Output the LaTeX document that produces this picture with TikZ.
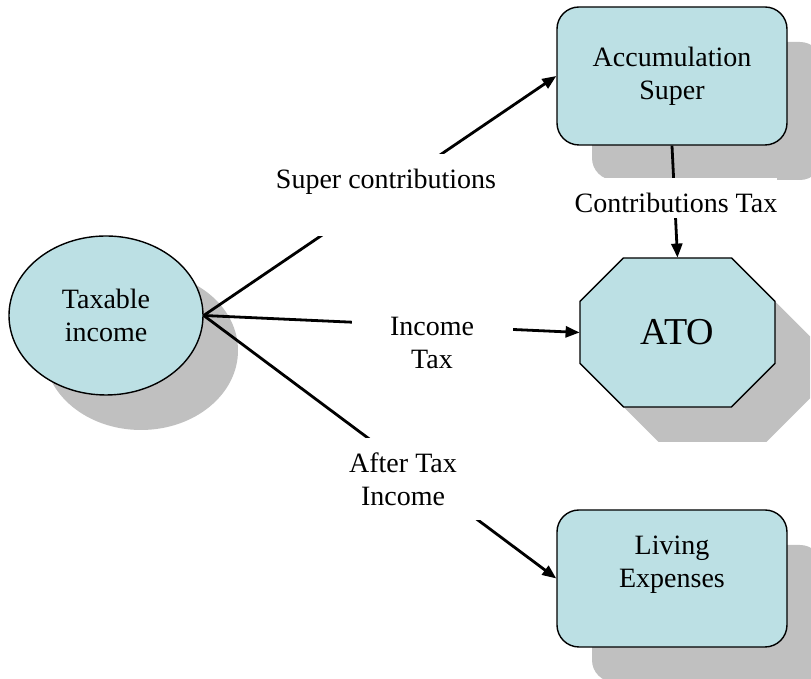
\documentclass[tikz,border=0pt]{standalone}
\usepackage{fontspec}
\setmainfont{Liberation Serif}
\usetikzlibrary{arrows.meta,shapes.geometric,shadows}
\definecolor{color0}{HTML}{000000}
\definecolor{bgColor}{HTML}{ffffff}
\definecolor{fillColor}{HTML}{BCE0E4}
\definecolor{shadowColor}{HTML}{C0C0C0}
\tikzset{
  shapeNode/.style={draw=color0, line width=0.7pt, fill=fillColor, align=center, inner sep=0pt, font=\fontsize{14}{16.5}\selectfont, drop shadow={shadow xshift=17.5pt, shadow yshift=-17.5pt, fill=shadowColor, opacity=1}},
  tagNode/.style={fill=bgColor, inner sep=0pt, align=center, font=\fontsize{14}{16.5}\selectfont, minimum width=80.5pt, minimum height=41pt},
  flowLine/.style={line width=1.4pt, color=color0, -{Triangle[length=7pt,width=5.5pt]}}
}
\begin{document}
\begin{tikzpicture}
\tikzset{x=0.5pt,y=0.5pt}
\useasboundingbox (0,0) rectangle (811, 679);
\clip (0,0) rectangle (811, 679);
\fill[bgColor] (0,0) rectangle (811, 679);
\node[shapeNode, ellipse, minimum width=97pt, minimum height=79.5pt] (taxable) at (106.00, 363.50) {Taxable\\income};
\node[shapeNode, rounded corners=11pt, minimum width=115pt, minimum height=69pt] (accum) at (672.00, 603.00) {Accumulation\\Super};
\fill[shadowColor] (658.50, 386.00) -- (766.50, 386.00) -- (810.00, 342.50) -- (810.00, 280.50) -- (766.50, 237.00) -- (658.50, 237.00) -- (615.00, 280.50) -- (615.00, 342.50) -- cycle;
\filldraw[fill=fillColor, draw=color0, line width=0.7pt] (623.50, 421.00) -- (731.50, 421.00) -- (775.00, 377.50) -- (775.00, 315.50) -- (731.50, 272.00) -- (623.50, 272.00) -- (580.00, 315.50) -- (580.00, 377.50) -- cycle;
\node[minimum width=97.5pt, minimum height=74.5pt, inner sep=0pt, font=\fontsize{19}{22}\selectfont] (ato) at (677.50, 346.50) {ATO};
\node[shapeNode, rounded corners=11pt, minimum width=115pt, minimum height=68.5pt] (living) at (672.00, 100.50) {Living\\Expenses\\\mbox{}};
\draw[flowLine] (taxable.east) -- (accum.west);
\draw[flowLine] (taxable.east) -- (ato.west);
\draw[flowLine] (taxable.east) -- (living.west);
\draw[flowLine] (accum.south) -- (ato.north);
\node[tagNode] (superTag) at (386.00, 484.00) {Super contributions\\\mbox{}};
\node[tagNode] (incomeTag) at (432.00, 336.00) {Income\\Tax};
\node[tagNode] (afterTag) at (403.00, 200.00) {After Tax\\Income};
\node[fill=bgColor, inner sep=0pt, anchor=base, text height=17.5pt, text depth=2.5pt, font=\fontsize{14}{16.5}\selectfont] (contribTag) at (676.00, 466.00) {Contributions Tax};
\end{tikzpicture}
\end{document}
